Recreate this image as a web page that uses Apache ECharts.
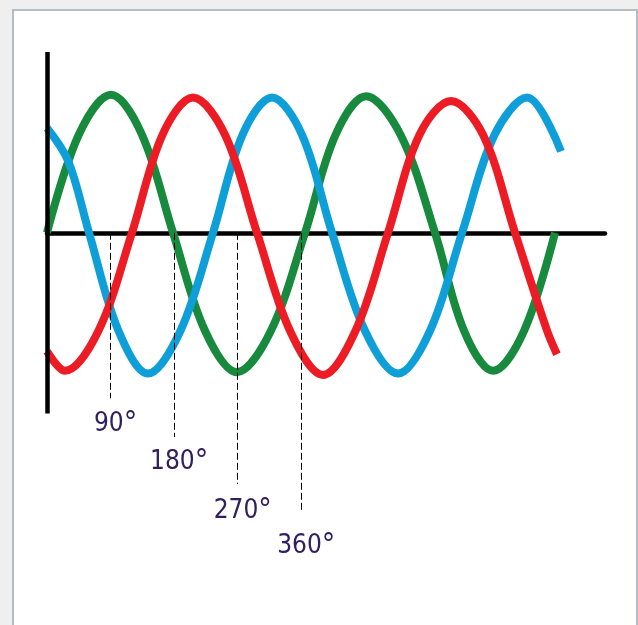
<!DOCTYPE html>
<html>
<head>
<meta charset="utf-8">
<script src="https://cdn.jsdelivr.net/npm/echarts@6/dist/echarts.min.js"></script>
<style>
  html, body { margin: 0; padding: 0; background: #eeefee; }
  #frame {
    position: absolute; left: 12px; top: 9px; width: 622px; height: 630px;
    background: #fff; border: 2px solid #b3bdc5;
  }
  #chart { position: absolute; left: 0; top: 0; width: 638px; height: 625px; }
</style>
</head>
<body>
<div id="frame"></div>
<div id="chart"></div>
<script>
// angle in degrees, value as fraction of the peak
const greenPts = [
  [0, 0], [45, 0.71], [90.6, 1.0], [134.5, 0.71], [178.4, 0], [223.7, -0.71],
  [269, -1.01], [317, -0.71], [365.3, 0], [408.5, 0.71], [451.7, 0.99],
  [500.5, 0.71], [549.3, 0], [590.4, -0.71], [631.5, -1.0], [675.4, -0.71], [719.2, 0]
]
const redPts = [
  [0, -0.86], [25.5, -1.0], [72.9, -0.71], [120.3, 0], [163.5, 0.71], [206.7, 0.98],
  [252, 0.71], [297.3, 0], [344, -0.71], [390.8, -1.03], [436.8, -0.71], [482.8, 0],
  [527.4, 0.71], [572, 0.955], [617.3, 0.71], [662.6, 0], [708, -0.71], [722, -0.88]
]
const bluePts = [
  [0, 0.76], [30, 0.52], [59.5, 0], [101.2, -0.71], [143, -1.02], [189, -0.71],
  [235, 0], [276.8, 0.71], [318.6, 0.98], [361, 0.71], [403.5, 0], [450.2, -0.71],
  [497, -1.02], [542.3, -0.71], [587.6, 0], [633.6, 0.71], [679.6, 0.98], [727.7, 0.59]
]
const angleMarks = [90, 180, 270, 360]
const markEnds = [-1.2, -1.48, -1.82, -2.02]
const markLabels = ['90', '180', '270', '360']
const yAxisSpan = [1.31, -1.31]

// gap between dashed line end and its label (px)
const labelGap = [11, 10, 12, 20]

const chart = echarts.init(document.getElementById('chart'))

const curve = (data, color) => ({
  type: 'line',
  data: data,
  smooth: 0.35,
  showSymbol: false,
  silent: true,
  lineStyle: { width: 8, color: color }
})

const labelFont = "'DejaVu Sans Condensed', 'Liberation Sans', sans-serif"

chart.setOption({
  animation: false,
  grid: { left: 47, right: 33, top: 52, bottom: 47.2 },
  xAxis: {
    type: 'value',
    min: 0,
    max: 790,
    axisLine: { show: true, onZero: true, lineStyle: { color: '#000', width: 4.5 } },
    axisTick: { show: false },
    axisLabel: { show: false },
    splitLine: { show: false }
  },
  yAxis: {
    type: 'value',
    min: -2.5,
    max: 1.31,
    axisLine: { show: false },
    axisTick: { show: false },
    axisLabel: { show: false },
    splitLine: { show: false }
  },
  series: [
    {
      type: 'line',
      data: [],
      silent: true,
      markLine: {
        silent: true,
        symbol: ['none', 'none'],
        lineStyle: { color: '#000', width: 1, type: [7, 3] },
        data: angleMarks.map((a, i) => [
          {
            name: markLabels[i],
            coord: [a, 0],
            label: {
              show: true,
              position: 'end',
              distance: labelGap[i],
              offset: [5, 0],
              formatter: '{n|{b}}{d|°}',
              rich: {
                n: { color: '#2f2160', fontSize: 26, fontFamily: labelFont },
                d: { color: '#2f2160', fontSize: 30, fontFamily: labelFont }
              }
            }
          },
          { coord: [a, markEnds[i]] }
        ])
      }
    },
    curve(greenPts, '#178a3d'),
    curve(bluePts, '#0e9fd8'),
    curve(redPts, '#ed1c24'),
    {
      type: 'line',
      data: [],
      silent: true,
      markLine: {
        silent: true,
        symbol: ['none', 'none'],
        label: { show: false },
        lineStyle: { color: '#000', width: 4.5, type: 'solid' },
        data: [[{ coord: [0, yAxisSpan[0]] }, { coord: [0, yAxisSpan[1]] }]]
      }
    }
  ]
})
</script>
</body>
</html>
